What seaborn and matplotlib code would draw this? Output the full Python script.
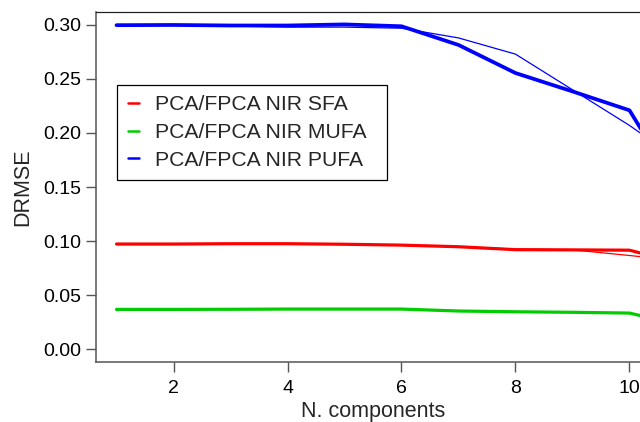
import numpy as np
import pandas as pd
import matplotlib
matplotlib.use("Agg")
import matplotlib.pyplot as plt
import seaborn as sns
from matplotlib.lines import Line2D

# ---- data ----
n_comp = [1, 2, 3, 4, 5, 6, 7, 8, 9, 10, 11]
sfa_thick = [0.0972, 0.0972, 0.0975, 0.0975, 0.0970, 0.0962, 0.0947, 0.0920, 0.0918, 0.0915, 0.0780]
sfa_thin = [0.0972, 0.0972, 0.0975, 0.0973, 0.0968, 0.0960, 0.0948, 0.0925, 0.0918, 0.0866, 0.0810]
mufa_thick = [0.0367, 0.0367, 0.0368, 0.0370, 0.0370, 0.0370, 0.0352, 0.0345, 0.0340, 0.0333, 0.0210]
mufa_thin = [0.0367, 0.0367, 0.0368, 0.0370, 0.0370, 0.0369, 0.0350, 0.0345, 0.0340, 0.0333, 0.0220]
pufa_thick = [0.2998, 0.3000, 0.2995, 0.2995, 0.3005, 0.2988, 0.2815, 0.2555, 0.2385, 0.2210, 0.1350]
pufa_thin = [0.3000, 0.3000, 0.2990, 0.2980, 0.2980, 0.2970, 0.2880, 0.2730, 0.2400, 0.2070, 0.1700]

series_labels = ["PCA/FPCA NIR SFA", "PCA/FPCA NIR MUFA", "PCA/FPCA NIR PUFA"]
x_ticks = [2, 4, 6, 8, 10]
y_ticks = [0.00, 0.05, 0.10, 0.15, 0.20, 0.25, 0.30]

colors = {"SFA": "#FF0000", "MUFA": "#00CC00", "PUFA": "#0000FF"}

rows = []
for name, thick, thin in [("SFA", sfa_thick, sfa_thin),
                          ("MUFA", mufa_thick, mufa_thin),
                          ("PUFA", pufa_thick, pufa_thin)]:
    for xv, a, b in zip(n_comp, thick, thin):
        rows.append({"x": xv, "y": a, "series": name, "kind": "thick"})
        rows.append({"x": xv, "y": b, "series": name, "kind": "thin"})
df = pd.DataFrame(rows)

sns.set_style("ticks")
plt.rcParams["font.family"] = ["Liberation Sans", "DejaVu Sans"]

W, H = 640, 422
fig = plt.figure(figsize=(W / 100, H / 100), dpi=100)
ax_left, ax_right, ax_top, ax_bottom = 96, 650, 12, 362
ax = fig.add_axes([ax_left / W, 1 - ax_bottom / H, (ax_right - ax_left) / W, (ax_bottom - ax_top) / H])

widths = {"SFA": (2.3, 0.9), "MUFA": (2.3, 0.9), "PUFA": (2.7, 0.9)}
for name in ["SFA", "MUFA", "PUFA"]:
    for kind, lw in zip(["thick", "thin"], widths[name]):
        sub = df[(df.series == name) & (df.kind == kind)]
        sns.lineplot(data=sub, x="x", y="y", color=colors[name], linewidth=lw,
                     ax=ax, legend=False, estimator=None, sort=True)

ax.set_xlim(0.64, 10.36)
ax.set_ylim(-0.012, 0.312)
ax.set_xticks(x_ticks)
ax.set_xticklabels([str(t) for t in x_ticks])
ax.set_yticks(y_ticks)
ax.set_yticklabels([f"{t:.2f}" for t in y_ticks])

spine_col = "#555555"
for s in ax.spines.values():
    s.set_color(spine_col)
    s.set_linewidth(1.1)
ax.spines["top"].set_color("#222222")
ax.spines["top"].set_linewidth(0.9)
ax.tick_params(axis="both", direction="out", length=7.2, width=1.0, color=spine_col,
               labelsize=14, labelcolor="black")
ax.tick_params(axis="x", pad=6)
ax.tick_params(axis="y", pad=3.6)

ax.set_xlabel("N. components", fontsize=15.5, labelpad=3)
ax.set_ylabel("DRMSE", fontsize=15.5, labelpad=7)

handles = [Line2D([0], [0], color=colors[k], linewidth=1.8) for k in ["SFA", "MUFA", "PUFA"]]
x0, x1, y0, y1 = 117, 387, 84.5, 180
leg = ax.legend(handles, series_labels, loc="upper left",
                bbox_to_anchor=(x0 / W, 1 - y1 / H, (x1 - x0) / W, (y1 - y0) / H),
                bbox_transform=fig.transFigure, mode="expand", borderaxespad=0,
                fontsize=15.2, frameon=True, fancybox=False, framealpha=1,
                edgecolor="black", handlelength=0.55, handletextpad=0.75,
                borderpad=0.5, labelspacing=0.42)
leg.get_frame().set_linewidth(0.9)

fig.savefig("out.png", dpi=100)
